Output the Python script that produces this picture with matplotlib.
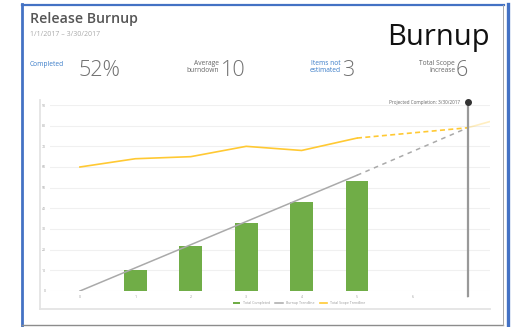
import matplotlib.pyplot as plt
from matplotlib.lines import Line2D

# Release burnup data (per sprint)
sprints = ["0", "1", "2", "3", "4", "5", "6", "7"]
completed_idx = [1, 2, 3, 4, 5]
completed = [10, 22, 33, 43, 53]
scope_idx = [0, 1, 2, 3, 4, 5]
scope = [60, 64, 65, 70, 68, 74]
scope_proj_idx = [5, 7]
scope_proj = [74, 79]
scope_tail_idx = [7, 7.4]
scope_tail = [79, 82]
trend_idx = [0, 5]
trend = [0, 56]
trend_proj_idx = [5, 7]
trend_proj = [56, 79]
y_ticks = [0, 10, 20, 30, 40, 50, 60, 70, 80, 90]
completion_idx = 7

W, H = 513, 327
plt.rcParams['font.family'] = ['Open Sans', 'DejaVu Sans']

fig = plt.figure(figsize=(W / 100, H / 100), dpi=100)


def fx(x):
    return x / W


def fy(y):
    return 1 - y / H


def ftext(x, y, s, **kw):
    fig.text(fx(x), fy(y), s, **kw)


def fline(xs, ys, **kw):
    fig.add_artist(Line2D([fx(v) for v in xs], [fy(v) for v in ys], **kw))


# card frame
frame_blue = '#4472C4'
fline([22, 22], [4, 327], color=frame_blue, lw=2.0)
fline([22, 504], [5, 5], color=frame_blue, lw=1.6)
fline([22, 503], [325, 325], color='#8c8c8c', lw=1.0)
fline([503, 503], [5, 325], color='#a8a8a8', lw=0.7)
fline([507.5, 507.5], [4, 327], color=frame_blue, lw=2.4)

# header
ftext(30, 19, "Release Burnup", fontsize=10.2, fontweight='semibold',
      color='#555555', va='center', ha='left')
ftext(30, 35, "1/1/2017 \u2013 3/30/2017", fontsize=5, color='#aaaaaa',
      va='center', ha='left')
ftext(490, 38, "Burnup", fontsize=21, color='#111111', va='center', ha='right')

# KPI row
blue = '#3a7cc8'
grey = '#707070'
ftext(30, 65, "Completed", fontsize=4.8, color=blue, va='center', ha='left')
ftext(79, 71, "52%", fontsize=15.5, color=grey, va='center', ha='left',
      fontweight='light')
ftext(219, 67, "Average\nburndown", fontsize=4.8, color='#666666', va='center',
      ha='right', linespacing=1.0)
ftext(221, 71, "10", fontsize=15.5, color=grey, va='center', ha='left',
      fontweight='light')
ftext(341, 67, "Items not\nestimated", fontsize=4.8, color=blue, va='center',
      ha='right', linespacing=1.0)
ftext(342, 71, "3", fontsize=15.5, color=grey, va='center', ha='left',
      fontweight='light')
ftext(455, 67, "Total Scope\nIncrease", fontsize=4.8, color='#666666',
      va='center', ha='right', linespacing=1.0)
ftext(456, 71, "6", fontsize=15.5, color=grey, va='center', ha='left',
      fontweight='light')

# chart box
fline([40, 40], [100, 309], color='#e4e4e4', lw=1.3)
fline([40, 490], [309, 309], color='#e4e4e4', lw=1.3)

ax = fig.add_axes([fx(50), fy(291), fx(490) - fx(50), fy(105) - fy(291)])
ax.set_xlim(-0.54, 7.40)
ax.set_ylim(0, 90)
for s in ax.spines.values():
    s.set_visible(False)
ax.set_yticks(y_ticks)
ax.set_xticks(range(len(sprints)))
ax.set_xticklabels(sprints)
ax.tick_params(length=0, labelsize=2.5, labelcolor='#999999', pad=3)
ax.grid(axis='y', color='#f0f0f0', lw=0.8)
ax.set_axisbelow(True)

bars = ax.bar(completed_idx, completed, width=0.41, color='#70AD47',
              label='Total Completed', zorder=2)
trend_line, = ax.plot(trend_idx, trend, color='#aaaaaa', lw=1.1,
                      label='Burnup Trendline', zorder=3)
ax.plot(trend_proj_idx, trend_proj, color='#aaaaaa', lw=1.1,
        linestyle=(0, (3, 3)), zorder=3)
scope_line, = ax.plot(scope_idx, scope, color='#FFC933', lw=1.2,
                      label='Total Scope Trendline', zorder=3)
ax.plot(scope_proj_idx, scope_proj, color='#FFC933', lw=1.2,
        linestyle=(0, (3, 2)), zorder=3)
ax.plot(scope_tail_idx, scope_tail, color='#FFC933', lw=1.2, alpha=0.3,
        zorder=3)

# projected completion marker
ax.plot([completion_idx, completion_idx], [-2.4, 91.4], color='#999999',
        lw=1.6, clip_on=False, zorder=4)
ax.plot([completion_idx], [91.4], 'o', color='#333333', markersize=4,
        clip_on=False, zorder=5)
ax.text(completion_idx - 0.15, 91.4, "Projected Completion: 3/30/2017",
        fontsize=3.3, color='#666666', ha='right', va='center')

fig.legend([bars, trend_line, scope_line],
           ['Total Completed', 'Burnup Trendline', 'Total Scope Trendline'],
           loc='center', bbox_to_anchor=(fx(299), fy(303)), ncol=3,
           fontsize=2.5, frameon=False, handlelength=2.2, columnspacing=1.5,
           labelcolor='#999999')

fig.savefig('out.png', dpi=100)
